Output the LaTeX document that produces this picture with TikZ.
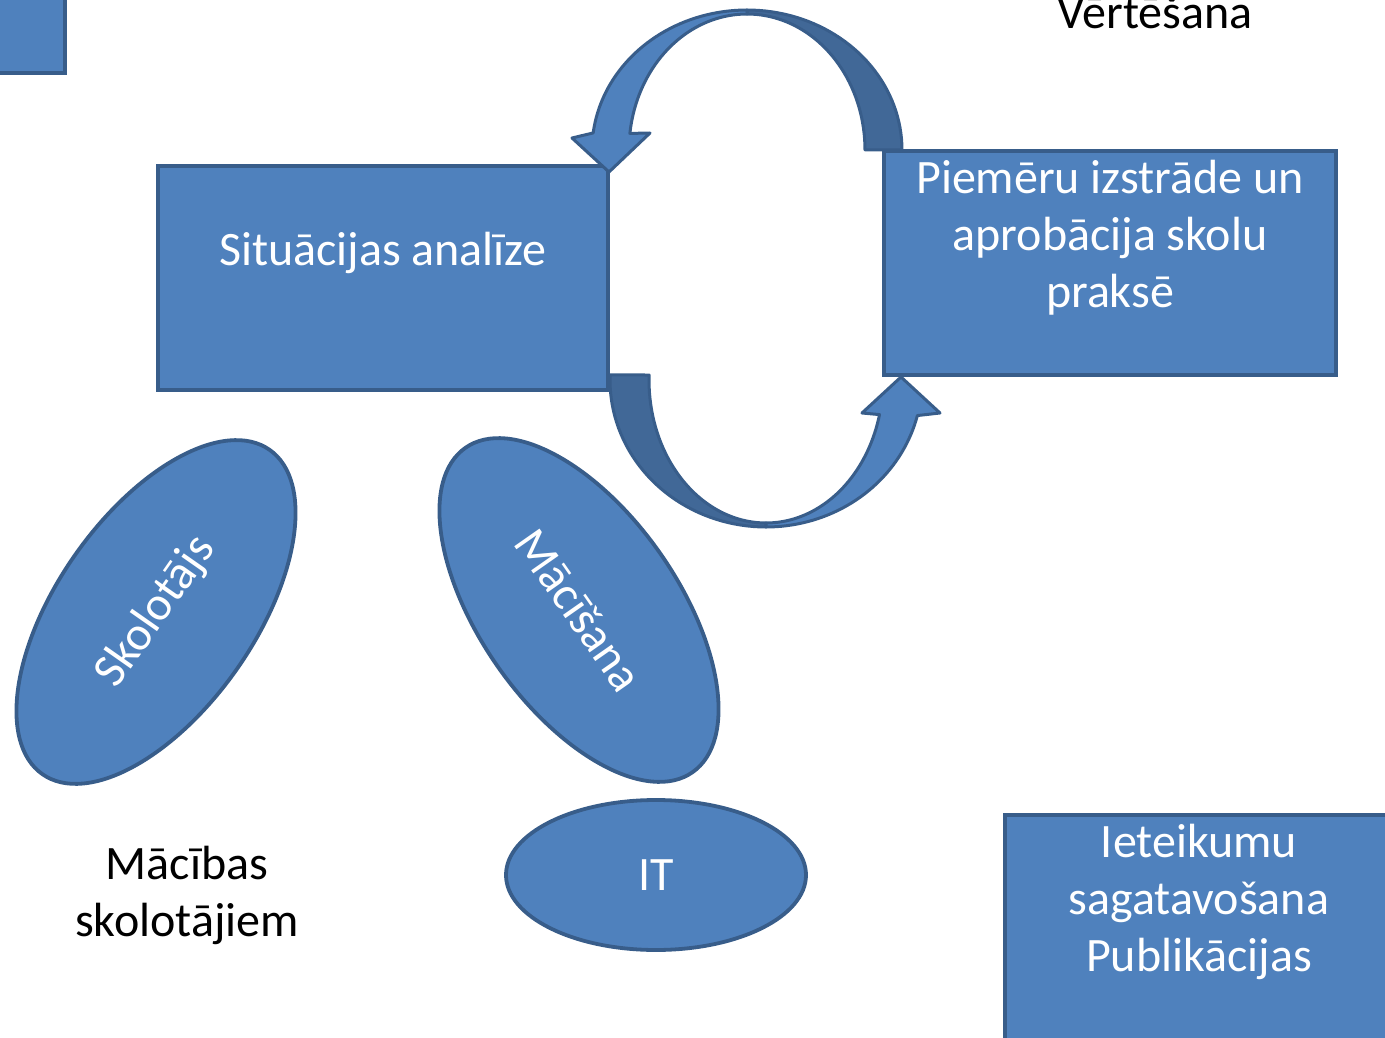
\documentclass[tikz,border=0pt]{standalone}
\usepackage{fontspec}
\setmainfont{Carlito}
\usetikzlibrary{shapes.geometric}
\definecolor{fillblue}{HTML}{4F81BD}
\definecolor{edgeblue}{HTML}{385D8A}
\definecolor{darkblue}{HTML}{416897}
\begin{document}
\begin{tikzpicture}[x=1pt,y=-1pt,
  box/.style={draw=edgeblue, fill=fillblue, line width=3.8pt, rectangle, inner sep=0pt, outer sep=0pt},
  ell/.style={draw=edgeblue, fill=fillblue, line width=3.8pt, ellipse, inner sep=0pt, outer sep=0pt, text=white, font=\fontsize{48}{57}\selectfont},
  wtext/.style={text=white, font=\fontsize{48}{57}\selectfont, align=center, inner sep=0pt},
  btext/.style={text=black, font=\fontsize{48}{57}\selectfont, align=center, inner sep=0pt},
  arr/.style={draw=edgeblue, line width=3pt, line join=round, fill=fillblue},
  arrback/.style={arr, fill=darkblue}]
\useasboundingbox (0,0) rectangle (1385,1038);
\clip (0,0) rectangle (1385,1038);
% boxes
\node[box, minimum width=75pt, minimum height=83pt, anchor=north west] (corner) at (-10,-10) {};
\node[box, minimum width=450pt, minimum height=224pt, anchor=north west] (sit) at (158,166) {};
\node[box, minimum width=452pt, minimum height=224pt, anchor=north west] (pie) at (884,151) {};
\node[box, minimum width=400pt, minimum height=240pt, anchor=north west] (iet) at (1005,815) {};
% curved arrows
\draw[arrback] plot[domain=0:90,samples=40] ({747+155*cos(\x)},{150-140*sin(\x)})
  -- plot[domain=90:0,samples=40] ({747+118*cos(\x)},{150-136*sin(\x)}) -- cycle;
\draw[arr] plot[domain=90:173,samples=40] ({747+155*cos(\x)},{150-140*sin(\x)})
  -- (572,138) -- (609,172) -- (650,133)
  -- plot[domain=173:90,samples=40] ({747+118*cos(\x)},{150-136*sin(\x)}) -- cycle;
\draw[arrback] plot[domain=178:270,samples=40] ({766+156*cos(\x)},{380-147*sin(\x)})
  -- plot[domain=270:178,samples=40] ({766+117*cos(\x)},{380-143*sin(\x)}) -- cycle;
\draw[arr] plot[domain=270:346,samples=40] ({766+156*cos(\x)},{380-147*sin(\x)})
  -- (940,413) -- (901,377) -- (862,413)
  -- plot[domain=346:270,samples=40] ({766+117*cos(\x)},{380-143*sin(\x)}) -- cycle;
% ellipses
\node[ell, minimum width=396pt, minimum height=198pt, rotate=55] (skol) at (156,612) {Skolotājs};
\node[ell, minimum width=396pt, minimum height=198pt, rotate=-55] (maci) at (579,610) {Mācīšana};
\node[ell, minimum width=300pt, minimum height=150pt] (it) at (656,875) {IT};
% texts
\node[wtext, anchor=base] (sittext) at (383,265) {Situācijas analīze};
\node[wtext, anchor=base] (pietext) at (1110,307) {Piemēru izstrāde un\\aprobācija skolu\\praksē};
\node[wtext, anchor=base] (iettext) at (1199,971) {Ieteikumu\\sagatavošana\\Publikācijas};
\node[btext, anchor=base] (vert) at (1155,29) {Vērtēšana};
\node[btext, anchor=base] (mac) at (187,936) {Mācības\\skolotājiem};
\end{tikzpicture}
\end{document}
